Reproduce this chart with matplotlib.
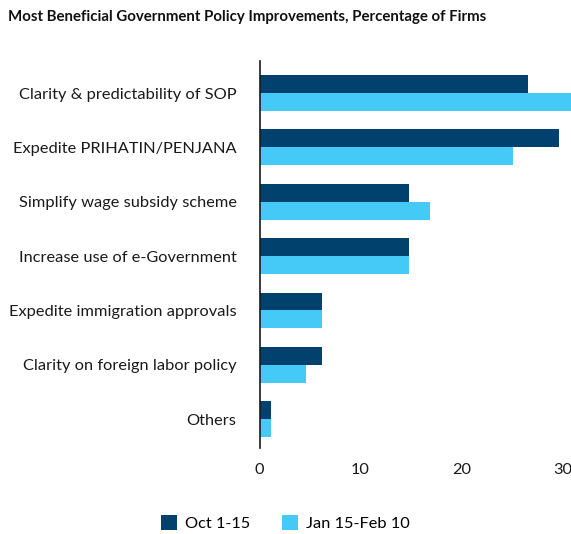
import matplotlib.pyplot as plt
import numpy as np

categories = [
    "Clarity & predictability of SOP",
    "Expedite PRIHATIN/PENJANA",
    "Simplify wage subsidy scheme",
    "Increase use of e-Government",
    "Expedite immigration approvals",
    "Clarity on foreign labor policy",
    "Others",
]
oct_vals = [26.6, 29.7, 14.8, 14.8, 6.2, 6.2, 1.1]
jan_vals = [31.0, 25.1, 16.9, 14.8, 6.2, 4.6, 1.1]
series_names = ["Oct 1-15", "Jan 15-Feb 10"]

plt.rcParams['font.family'] = ['Lato', 'DejaVu Sans']

fig = plt.figure(figsize=(5.71, 5.34), dpi=100)
ax = fig.add_axes([259.5 / 571, 1 - 448 / 534, 1 - 259.5 / 571, (448 - 61) / 534])

y = np.arange(len(categories))
h = 0.33
ax.barh(y - h / 2, oct_vals, height=h, color='#00416E', label=series_names[0])
ax.barh(y + h / 2, jan_vals, height=h, color='#45C9F6', label=series_names[1])

ax.set_yticks(y)
ax.set_yticklabels(categories, fontsize=11.8, color='#1a1a1a')
ax.set_ylim(len(categories) - 1 + 0.53, -0.59)
ax.set_xlim(0, 30.85)
ax.set_xticks([0, 10, 20, 30])
ax.tick_params(axis='both', length=0, colors='#1a1a1a')
ax.tick_params(axis='x', labelsize=11.8, pad=11)
ax.tick_params(axis='y', pad=16.5)
for s in ['top', 'right', 'bottom']:
    ax.spines[s].set_visible(False)
ax.spines['left'].set_color('#1a1a1a')
ax.spines['left'].set_linewidth(1.2)

fig.text(8 / 571, 1 - 17 / 534, "Most Beneficial Government Policy Improvements, Percentage of Firms",
         fontsize=10.8, fontweight='bold', va='center', ha='left', color='#111111')

fig.legend(loc='center', bbox_to_anchor=(0.5, 1 - 523 / 534), ncol=2, frameon=False,
           fontsize=11.8, handlelength=1.0, handleheight=1.0, columnspacing=1.9, handletextpad=0.5)

fig.savefig("out.png", dpi=100)
